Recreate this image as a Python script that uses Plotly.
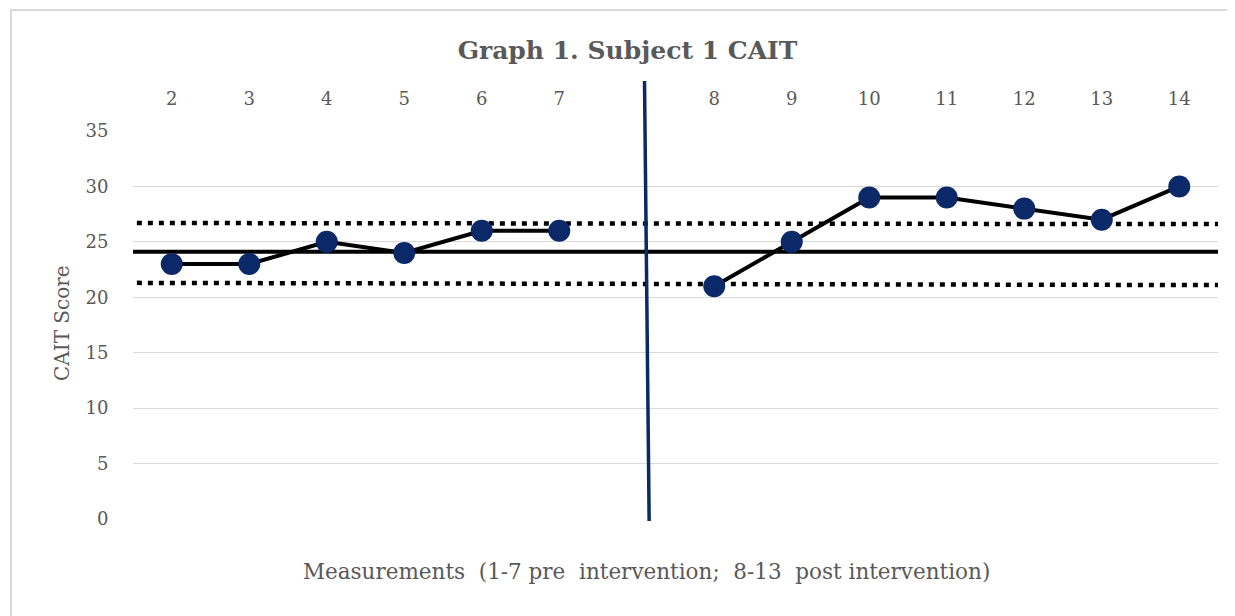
import plotly.graph_objects as go

# ---- data ----
categories = ["2", "3", "4", "5", "6", "7", "", "8", "9", "10", "11", "12", "13", "14"]
scores = [23, 23, 25, 24, 26, 26, None, 21, 25, 29, 29, 28, 27, 30]
mean_level = [24.1, 24.1]
upper_band = [26.7, 26.6]
lower_band = [21.3, 21.1]
y_ticks = [0, 5, 10, 15, 20, 25, 30, 35]
phase_split = [6.1, 6.16]  # category-position of the phase-change line (top, bottom)

positions = list(range(len(categories)))
x_lo, x_hi = -0.5, len(categories) - 0.5

# page is rendered with an 8px body margin; work in page coordinates and convert
OFF = 8
PW, PH = 1235, 616
W, H = PW - OFF, PH - OFF
ML, MR, MT, MB = 133 - OFF, 17, 131 - OFF, 97
plot_w = W - ML - MR
plot_h = H - MT - MB


def px_x(page_x):
    return (page_x - OFF - ML) / plot_w


def px_y(page_y):
    return (H - MB - (page_y - OFF)) / plot_h


GRAY = "#595959"
NAVY = "#0b2869"
SERIF = "DejaVu Serif"

fig = go.Figure()

# mean line
fig.add_trace(go.Scatter(x=[x_lo, x_hi], y=mean_level, mode="lines",
                         line=dict(color="black", width=4), hoverinfo="skip", showlegend=False))
# dotted band lines
fig.add_trace(go.Scatter(x=[x_lo + 0.05, x_hi], y=upper_band, mode="lines",
                         line=dict(color="black", width=4.5, dash="5px,6px"), hoverinfo="skip", showlegend=False))
fig.add_trace(go.Scatter(x=[x_lo + 0.05, x_hi], y=lower_band, mode="lines",
                         line=dict(color="black", width=4.5, dash="5px,6px"), hoverinfo="skip", showlegend=False))
# scores
fig.add_trace(go.Scatter(x=positions, y=scores, mode="lines+markers", connectgaps=False,
                         line=dict(color="black", width=4),
                         marker=dict(color=NAVY, size=22, line=dict(width=0)),
                         showlegend=False, cliponaxis=False))

# phase-change vertical line (extends above the plot area)
fig.add_shape(type="line", xref="x", yref="paper",
              x0=phase_split[0], x1=phase_split[1],
              y0=px_y(81), y1=px_y(521),
              line=dict(color=NAVY, width=3.5))

# outer border of the chart (top and left edges)
fig.add_shape(type="line", xref="paper", yref="paper",
              x0=px_x(10), x1=px_x(PW),
              y0=px_y(10), y1=px_y(10),
              line=dict(color="#d9d9d9", width=2))
fig.add_shape(type="line", xref="paper", yref="paper",
              x0=px_x(11), x1=px_x(11),
              y0=px_y(10), y1=px_y(PH),
              line=dict(color="#d9d9d9", width=2))

fig.update_layout(
    width=W, height=H,
    margin=dict(l=ML, r=MR, t=MT, b=MB),
    paper_bgcolor="white", plot_bgcolor="white",
    title=dict(text="<b>Graph 1. Subject 1 CAIT</b>", x=((458 + 797) / 2 - OFF) / W, xanchor="center",
               y=1 - (50 - OFF) / H, yanchor="middle",
               font=dict(family=SERIF, size=25, color=GRAY)),
    xaxis=dict(range=[x_lo, x_hi], side="top",
               tickmode="array", tickvals=positions, ticktext=categories,
               showgrid=False, zeroline=False, showline=False,
               ticks="outside", ticklen=18, tickcolor="rgba(0,0,0,0)",
               tickfont=dict(family=SERIF, size=18, color=GRAY)),
    yaxis=dict(range=[0, 35], tickmode="array", tickvals=y_ticks,
               showgrid=True, gridcolor="#d9d9d9", gridwidth=1,
               zeroline=False, showline=False,
               ticks="outside", ticklen=20, tickcolor="rgba(0,0,0,0)",
               tickfont=dict(family=SERIF, size=18, color=GRAY)),
    annotations=[
        dict(text="Measurements  (1-7 pre  intervention;  8-13  post intervention)",
             xref="paper", yref="paper", x=px_x(646), y=px_y(571),
             xanchor="center", yanchor="middle", showarrow=False,
             font=dict(family=SERIF, size=21.5, color=GRAY)),
        dict(text="CAIT Score", xref="paper", yref="paper",
             x=px_x(62), y=px_y(323),
             xanchor="center", yanchor="middle", textangle=-90, showarrow=False,
             font=dict(family=SERIF, size=20, color=GRAY)),
    ],
)

fig.write_html("out.html")
